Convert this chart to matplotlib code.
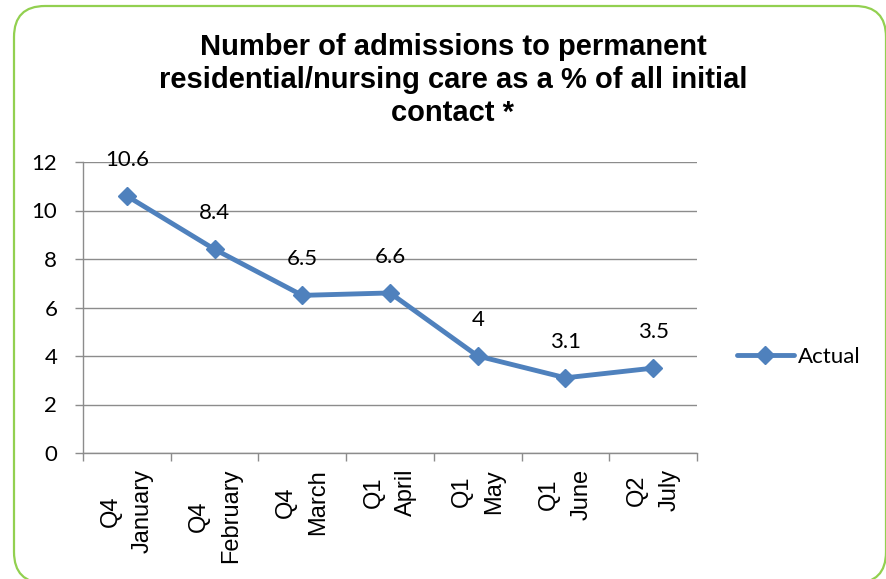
import matplotlib
matplotlib.use("Agg")
import matplotlib.pyplot as plt
from matplotlib.patches import FancyBboxPatch

# Data
quarters = ["Q4", "Q4", "Q4", "Q1", "Q1", "Q1", "Q2"]
months = ["January", "February", "March", "April", "May", "June", "July"]
actual = [10.6, 8.4, 6.5, 6.6, 4, 3.1, 3.5]
y_ticks = [0, 2, 4, 6, 8, 10, 12]
series_name = "Actual"
title = "Number of admissions to permanent\nresidential/nursing care as a % of all initial\ncontact *"

W, H = 887, 579
fig = plt.figure(figsize=(W / 100, H / 100), dpi=100)

# Rounded green frame around the chart
frame = FancyBboxPatch((14 / W, 1 - 583 / H), (886 - 14) / W, (583 - 6) / H,
                       boxstyle="round,pad=0,rounding_size=0.035",
                       transform=fig.transFigure, facecolor="none",
                       edgecolor="#92D050", linewidth=1.6, zorder=0,
                       mutation_aspect=W / H)
fig.patches.append(frame)

ax = fig.add_axes([83 / W, 1 - 453 / H, (697 - 83) / W, (453 - 162) / H])

line_color = "#4F81BD"
grid_color = "#8C8C8C"
num_font = "Lato"

x = list(range(len(actual)))
ax.plot(x, actual, color=line_color, linewidth=3.5, marker="D", markersize=9,
        markeredgewidth=1, markeredgecolor=line_color, markerfacecolor=line_color,
        solid_joinstyle="round", solid_capstyle="round", label=series_name,
        zorder=3, clip_on=False)

for xi, v in zip(x, actual):
    ax.annotate(f"{v:g}", (xi, v), xytext=(0, 26), textcoords="offset points",
                ha="center", va="center", fontsize=16, family=num_font,
                color="black")

ax.set_xlim(-0.5, len(actual) - 0.5)
ax.set_ylim(0, 12)
ax.set_yticks(y_ticks)
ax.set_yticklabels([str(t) for t in y_ticks], family=num_font, fontsize=16)
ax.yaxis.grid(True, color=grid_color, linewidth=1.0)
ax.set_axisbelow(True)

# Category boundaries carry tick marks; labels sit at category centres
ax.set_xticks([i - 0.5 for i in range(len(actual) + 1)])
ax.set_xticklabels([])
ax.set_xticks(x, minor=True)
ax.set_xticklabels([f"{q}\n{m}" for q, m in zip(quarters, months)], minor=True,
                   rotation=90, family="Liberation Sans", fontsize=17,
                   ha="center", va="top", multialignment="center",
                   linespacing=1.6)
ax.tick_params(axis="x", which="minor", length=0, pad=11.5)
ax.tick_params(axis="x", which="major", length=5.5, width=1, color=grid_color,
               direction="out")
ax.tick_params(axis="y", length=5.5, width=1, color=grid_color, pad=13)

for s in ("top", "right"):
    ax.spines[s].set_visible(False)
for s in ("left", "bottom"):
    ax.spines[s].set_color(grid_color)
    ax.spines[s].set_linewidth(1.0)

fig.text(453 / W, 1 - 80 / H, title, ha="center", va="center",
         family="Liberation Sans", fontweight="bold", fontsize=21,
         linespacing=1.22)

ax.legend(loc="center left", bbox_to_anchor=(737 / W, 1 - 357 / H),
          bbox_transform=fig.transFigure, frameon=False, borderpad=0,
          borderaxespad=0, handlelength=2.55, handletextpad=0.2,
          prop={"family": num_font, "size": 16})

fig.savefig("out.png", dpi=100)
